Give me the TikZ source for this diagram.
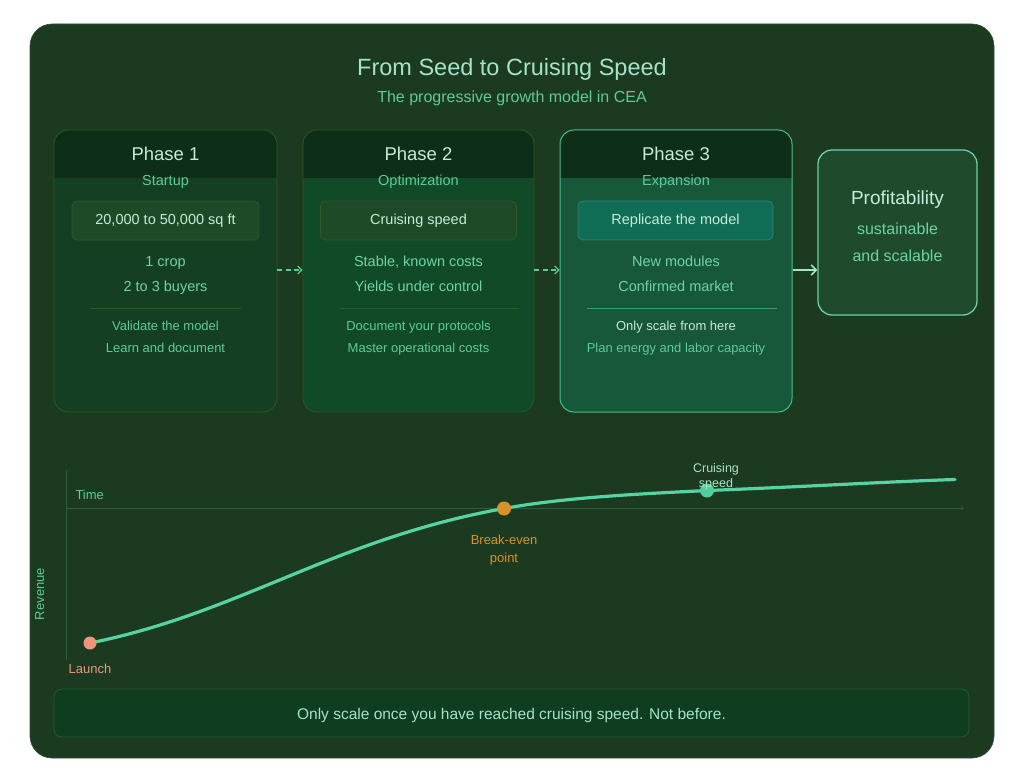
\documentclass[tikz,border=0pt]{standalone}
\usepackage{fontspec}
\setmainfont{Liberation Sans}
\usetikzlibrary{arrows.meta}
\definecolor{panelbg}{HTML}{1C3A20}
\definecolor{hdrbg}{HTML}{0D2E17}
\definecolor{pOne}{HTML}{143F22}
\definecolor{pTwo}{HTML}{114A27}
\definecolor{pThree}{HTML}{17573A}
\definecolor{brdOne}{HTML}{2C5A22}
\definecolor{brdThree}{HTML}{45BF8C}
\definecolor{profbg}{HTML}{1F4A2B}
\definecolor{profbrd}{HTML}{6AD0A8}
\definecolor{txtLight}{HTML}{C5ECD6}
\definecolor{txtMint}{HTML}{A4E4C6}
\definecolor{txtGreen}{HTML}{5ECB98}
\definecolor{txtList}{HTML}{6FD3A5}
\definecolor{innerbg}{HTML}{1F4A28}
\definecolor{innerbrd}{HTML}{30592A}
\definecolor{tealbg}{HTML}{116E56}
\definecolor{curveC}{HTML}{55D3A3}
\definecolor{axisC}{HTML}{2F5E3A}
\definecolor{launchC}{HTML}{EE957C}
\definecolor{beC}{HTML}{D8922C}
\definecolor{cruiseC}{HTML}{4FCF9F}
\definecolor{bannerbg}{HTML}{0F3D20}
\definecolor{bannerbrd}{HTML}{285A2E}
\tikzset{
  fs/.style={font=\fontsize{#1}{#1}\selectfont},
  card/.style={draw=brdOne, line width=0.8pt, rounded corners=14pt, minimum width=#1, minimum height=282pt, inner sep=0pt,
    path picture={\fill[hdrbg, sharp corners] (path picture bounding box.north west) rectangle ([yshift=-48pt]path picture bounding box.north east);}},
  phasetitle/.style={fs=18.5, text=txtLight, anchor=base},
  phasesub/.style={fs=14.5, text=txtGreen, anchor=base},
  innerbox/.style={draw=innerbrd, fill=innerbg, line width=0.7pt, rounded corners=5pt, minimum height=39pt, inner sep=0pt, fs=14.5, text=txtLight},
  listtxt/.style={fs=14.5, text=txtList, anchor=base},
  smalltxt/.style={fs=13, text=txtGreen, anchor=base},
  sepline/.style={draw=brdOne, line width=0.7pt},
  dasharrow/.style={draw=txtGreen, line width=1.2pt, dash pattern=on 5pt off 3.5pt, -{Straight Barb[length=4pt,width=8pt]}},
  solidarrow/.style={draw=txtMint, line width=1.6pt, -{Straight Barb[length=5pt,width=10pt]}},
  dot/.style={circle, inner sep=0pt, minimum size=#1},
  chartlbl/.style={fs=13, anchor=base},
}
\begin{document}
\begin{tikzpicture}[x=1pt,y=-1pt]
\useasboundingbox (0,0) rectangle (1024,783);
\fill[white] (0,0) rectangle (1024,783);
% outer panel
\node[draw=axisC!70!panelbg, line width=0.6pt, fill=panelbg, rounded corners=22pt, minimum width=964pt, minimum height=734pt, inner sep=0pt] (panel) at (512,391) {};
% title
\node[fs=23.5, text=txtMint, anchor=base] (title) at (512,76) {From Seed to Cruising Speed};
\node[fs=16, text=txtGreen, anchor=base] (subtitle) at (512,103) {The progressive growth model in CEA};

% phase cards
\node[card=223pt, fill=pOne] (c1) at (165.5,271) {};
\node[card=231pt, fill=pTwo] (c2) at (418.5,271) {};
\node[card=232pt, fill=pThree, draw=brdThree, line width=1pt] (c3) at (676,271) {};
\node[draw=profbrd, fill=profbg, line width=1.3pt, rounded corners=14pt, minimum width=159pt, minimum height=165pt, inner sep=0pt] (prof) at (897.5,232.5) {};

% phase 1 content
\node[phasetitle] (t1) at (165.5,161) {Phase 1};
\node[phasesub] (s1) at (165.5,186) {Startup};
\node[innerbox, minimum width=187pt] (b1) at (165.5,220.5) {20,000 to 50,000 sq ft};
\node[listtxt] (l1a) at (165.5,267) {1 crop};
\node[listtxt] (l1b) at (165.5,291) {2 to 3 buyers};
\draw[sepline] (90,308) -- (241,308);
\node[smalltxt] (m1a) at (165.5,330.5) {Validate the model};
\node[smalltxt] (m1b) at (165.5,352.5) {Learn and document};

% phase 2 content
\node[phasetitle] (t2) at (418.5,161) {Phase 2};
\node[phasesub] (s2) at (418.5,186) {Optimization};
\node[innerbox, minimum width=196pt] (b2) at (418.5,220.5) {Cruising speed};
\node[listtxt] (l2a) at (418.5,267) {Stable, known costs};
\node[listtxt] (l2b) at (418.5,291) {Yields under control};
\draw[sepline] (340,308) -- (519,308);
\node[smalltxt] (m2a) at (418.5,330.5) {Document your protocols};
\node[smalltxt] (m2b) at (418.5,352.5) {Master operational costs};

% phase 3 content
\node[phasetitle] (t3) at (676,161) {Phase 3};
\node[phasesub] (s3) at (676,186) {Expansion};
\node[innerbox, minimum width=195pt, fill=tealbg, draw=tealbg!85!white, text=txtLight] (b3) at (675.5,220.5) {Replicate the model};
\node[listtxt] (l3a) at (676,267) {New modules};
\node[listtxt] (l3b) at (676,291) {Confirmed market};
\draw[sepline, draw=brdThree!70!pThree] (587,308) -- (777,308);
\node[smalltxt, text=txtLight] (m3a) at (676,330.5) {Only scale from here};
\node[smalltxt] (m3b) at (676,352.5) {Plan energy and labor capacity};

% profitability content
\node[fs=19, text=txtLight, anchor=base] (pt) at (897.5,205) {Profitability};
\node[fs=16, text=txtList, anchor=base] (pa) at (897.5,235) {sustainable};
\node[fs=16, text=txtList, anchor=base] (pb) at (897.5,262) {and scalable};

% arrows between cards
\draw[dasharrow] (c1.east |- 0,270) -- (c2.west |- 0,270);
\draw[dasharrow] (c2.east |- 0,270) -- (c3.west |- 0,270);
\draw[solidarrow] (c3.east |- 0,270) -- (prof.west |- 0,270);

% chart axes
\coordinate (ytop) at (66,470);
\coordinate (ybot) at (66,660);
\coordinate (xend) at (964,508);
\coordinate (xorig) at (66,508);
\draw[axisC, line width=0.7pt] (ybot) -- (ytop);
\draw[axisC, line width=0.7pt, -{Straight Barb[length=2.5pt,width=4pt]}] (xorig) -- (xend);
\node[chartlbl, text=txtGreen, anchor=base west] (timelbl) at (72,499) {Time};
\node[chartlbl, text=txtGreen, rotate=90] (revlbl) at (44,594) {Revenue};

% curve
\coordinate (L) at (90,643);
\coordinate (BE) at (504,508.5);
\coordinate (CR) at (707,490.5);
\coordinate (E) at (955,479.5);
\draw[curveC, line width=3.2pt, line cap=round]
  (L) .. controls (240,613) and (334,539) .. (BE)
      .. controls (564,497.5) and (637,494) .. (CR)
      .. controls (800,487) and (880,482) .. (E);
\node[dot=13pt, fill=launchC] (launch) at (L) {};
\node[dot=14pt, fill=beC] (breakeven) at (BE) {};
\node[dot=14pt, fill=cruiseC] (cruise) at (CR) {};
\node[chartlbl, text=launchC] (launchlbl) at (90,673.5) {Launch};
\node[chartlbl, text=beC] (belbl1) at (504,544.5) {Break-even};
\node[chartlbl, text=beC] (belbl2) at (504,562.5) {point};
\node[fs=12.5, text=txtMint, anchor=base] (crlbl1) at (716,472.5) {Cruising};
\node[fs=12.5, text=txtMint, anchor=base] (crlbl2) at (716,487) {speed};

% bottom banner
\node[draw=bannerbrd, fill=bannerbg, line width=0.7pt, rounded corners=8pt, minimum width=915pt, minimum height=48pt, inner sep=0pt] (banner) at (511.5,713) {};
\node[fs=15.5, text=txtMint, anchor=base] (bannertxt) at (511.5,719) {Only scale once you have reached cruising speed. Not before.};
\end{tikzpicture}
\end{document}
